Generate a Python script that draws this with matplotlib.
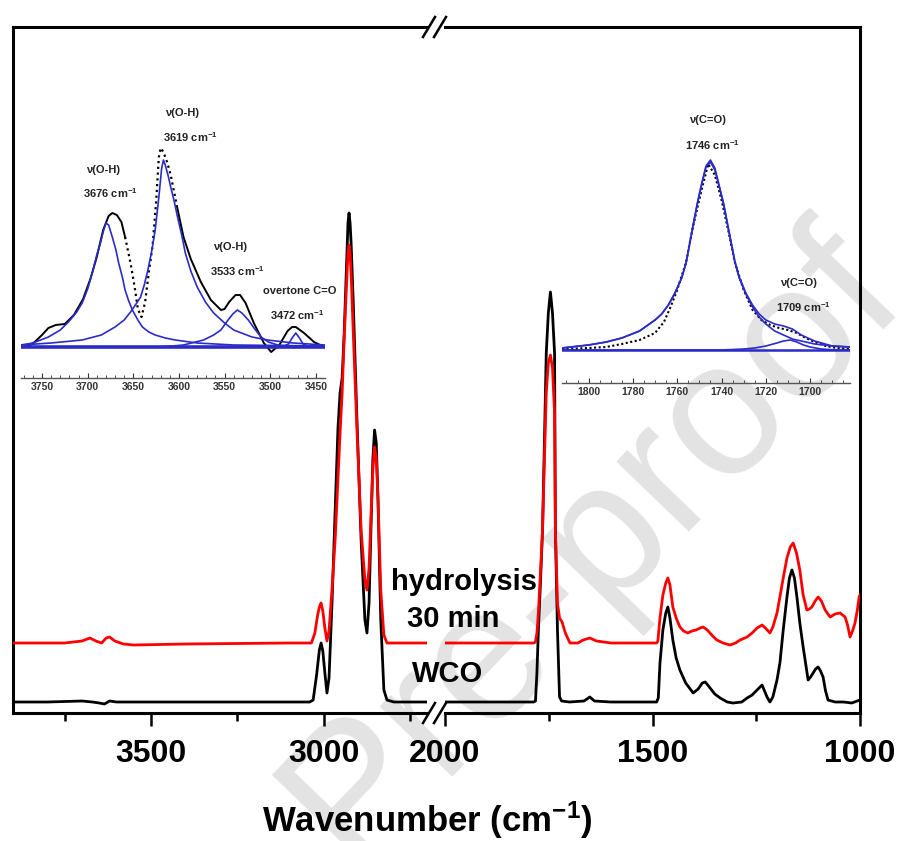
import matplotlib
matplotlib.use('Agg')
import matplotlib.pyplot as plt
from matplotlib.lines import Line2D

plt.rcParams['font.family'] = ['Liberation Sans', 'DejaVu Sans']
plt.rcParams['font.weight'] = 'bold'
plt.rcParams['mathtext.default'] = 'regular'

######################################################
## Main spectra (absorbance, a.u.)

# left panel, 3900-2700 cm-1
wco_l_nu = [3900, 3800, 3700, 3670, 3650, 3635, 3620, 3600, 3500, 3300, 3100, 3040, 3030, 3020, 3012,
            3007, 3002, 2996, 2990, 2984, 2975, 2966, 2958, 2952, 2946, 2940, 2933, 2929, 2926, 2923,
            2920, 2914, 2903, 2891, 2880, 2874, 2868, 2862, 2857, 2852, 2847, 2842, 2834, 2825, 2816,
            2796, 2700]
wco_l = [11, 11, 12, 11, 10, 9, 12, 11, 11, 11, 11, 11, 13, 38, 63,
         70, 62, 40, 20, 35, 113, 205, 285, 320, 335, 380, 450, 490, 500, 490,
         470, 413, 293, 173, 93, 80, 110, 190, 253, 283, 270, 213, 93, 23, 13,
         11, 11]

hyd_l_nu = [3900, 3800, 3750, 3700, 3677, 3660, 3643, 3630, 3620, 3605, 3580, 3550, 3400, 3100, 3035,
            3025, 3017, 3012, 3007, 3002, 2996, 2990, 2984, 2975, 2966, 2958, 2952, 2946, 2940, 2933,
            2929, 2926, 2923, 2920, 2914, 2903, 2891, 2880, 2874, 2868, 2862, 2857, 2852, 2847, 2842,
            2834, 2825, 2816, 2796, 2700]
hyd_l = [70, 70, 70, 72, 75, 72, 70, 75, 76, 72, 69, 68, 69, 70, 70,
         80, 98, 106, 110, 102, 85, 72, 82, 125, 175, 235, 280, 320, 375, 430,
         460, 468, 460, 440, 383, 283, 183, 133, 123, 145, 200, 243, 266, 255, 213,
         123, 78, 70, 70, 70]

# right panel, 2000-1000 cm-1
wco_r_nu = [2000, 1900, 1800, 1786, 1782, 1778.5, 1775, 1770, 1765, 1760, 1756, 1751, 1746, 1741, 1736,
            1734, 1729, 1724, 1719, 1700, 1665, 1651, 1640, 1600, 1520, 1490, 1486, 1482, 1475, 1468,
            1463, 1458, 1451, 1443, 1434, 1420, 1402, 1390, 1380, 1373, 1365, 1350, 1337, 1320, 1306,
            1285, 1272, 1260, 1248, 1236, 1224, 1217, 1210, 1200, 1193, 1185, 1176, 1170, 1164, 1158,
            1152, 1145, 1137, 1125, 1119, 1113, 1107, 1101, 1095, 1089, 1083, 1077, 1060, 1040, 1020,
            1000]
wco_r = [11, 11, 11, 11, 12, 40, 83, 130, 183, 280, 360, 400, 421, 400, 360,
         183, 83, 16, 12, 11, 12, 16, 12, 11, 11, 11, 15, 50, 83, 100,
         106, 95, 73, 55, 43, 30, 20, 24, 30, 31, 27, 19, 15, 11, 10,
         11, 15, 18, 23, 28, 16, 11, 16, 33, 50, 83, 116, 135, 143, 135,
         116, 90, 66, 33, 36, 40, 44, 46, 42, 36, 22, 13, 11, 11, 10,
         13]

hyd_r_nu = [2000, 1900, 1800, 1786, 1782, 1778.5, 1775, 1770, 1765, 1760, 1756, 1751, 1746, 1741, 1736,
            1734, 1729, 1724, 1718, 1710, 1699, 1680, 1667, 1651, 1635, 1600, 1520, 1490, 1487, 1482,
            1475, 1468, 1463, 1458, 1451, 1443, 1434, 1425, 1415, 1405, 1395, 1385, 1378, 1368, 1355,
            1345, 1330, 1313, 1300, 1289, 1272, 1260, 1248, 1236, 1228, 1217, 1210, 1200, 1193, 1185,
            1176, 1168, 1161, 1153, 1145, 1137, 1128, 1122, 1116, 1108, 1101, 1093, 1084, 1072, 1060,
            1048, 1036, 1030, 1024, 1018, 1012, 1006, 1002, 1000]
hyd_r = [70, 70, 70, 70, 71, 80, 100, 140, 183, 260, 320, 350, 358, 345, 300,
         183, 110, 95, 91, 80, 70, 70, 73, 75, 72, 70, 70, 70, 72, 95,
         118, 130, 135, 128, 106, 95, 86, 82, 80, 82, 83, 85, 86, 83, 77,
         73, 70, 68, 70, 73, 76, 80, 85, 88, 85, 80, 86, 100, 116, 135,
         155, 166, 170, 160, 143, 118, 103, 104, 106, 112, 116, 112, 103, 96, 99,
         100, 96, 88, 76, 82, 90, 104, 116, 118]

## Inset 1: O-H region deconvolution
oh_nu = [3772, 3765, 3758, 3750, 3743, 3735, 3725, 3715, 3705, 3697, 3690, 3683, 3677, 3673, 3668,
         3663, 3659, 3653, 3648, 3645, 3641, 3637, 3633, 3629, 3625, 3622, 3620, 3617, 3613, 3609,
         3602, 3595, 3587, 3576, 3565, 3554, 3550, 3545, 3538, 3533, 3527, 3518, 3507, 3499, 3490,
         3481, 3476, 3472, 3463, 3452, 3441]
oh_data = [0, 1, 5, 12, 19, 22, 23, 32, 48, 68, 90, 117, 131, 134, 132,
           125, 110, 84, 57, 38, 30, 45, 75, 100, 145, 190, 199, 195, 185, 172,
           140, 110, 88, 65, 47, 37, 38, 45, 52, 52, 44, 24, 4, -5, 2,
           16, 20, 20, 14, 5, 0]

oh_c1_nu = [3773, 3760, 3743, 3730, 3721, 3712, 3706, 3700, 3694, 3690, 3686, 3683, 3680, 3677, 3673,
            3669, 3666, 3662, 3659, 3655, 3651, 3645, 3640, 3633, 3626, 3615, 3604, 3580, 3540, 3440]
oh_c1 = [2, 4, 10, 17, 25, 35, 44, 58, 77, 92, 104, 115, 124, 122, 110,
         97, 84, 70, 57, 46, 37, 27, 20, 15, 12, 9, 7, 4, 2, 1]

oh_c2_nu = [3773, 3740, 3706, 3685, 3670, 3660, 3653, 3647, 3642, 3638, 3634, 3630, 3626, 3622, 3619,
            3617, 3615, 3612, 3609, 3605, 3602, 3597, 3593, 3587, 3580, 3571, 3562, 3550, 3540, 3520,
            3503, 3475, 3440]
oh_c2 = [2, 4, 7, 12, 20, 27, 35, 43, 50, 62, 77, 95, 117, 150, 178,
         187, 182, 172, 160, 145, 132, 112, 94, 76, 60, 45, 34, 24, 17, 10,
         7, 4, 2]

oh_c3_nu = [3620, 3595, 3573, 3562, 3554, 3547, 3541, 3536, 3531, 3524, 3517, 3510, 3502, 3492, 3470]
oh_c3 = [0, 2, 7, 12, 17, 26, 33, 37, 34, 27, 18, 10, 5, 2, 0]

oh_c4_nu = [3500, 3485, 3480, 3476, 3472, 3468, 3464, 3459, 3445]
oh_c4 = [0, 1, 3, 9, 14, 9, 3, 1, 0]

## Inset 2: C=O region deconvolution
co_nu = [1812, 1800, 1792, 1785, 1777, 1770, 1766, 1763, 1760, 1756, 1753, 1749, 1746, 1743, 1740,
         1737, 1734, 1730, 1726, 1722, 1718, 1714, 1710, 1706, 1702, 1698, 1693, 1688, 1682]
co_data = [1, 2, 3, 6, 10, 17, 28, 43, 60, 88, 122, 160, 186, 175, 150,
           120, 88, 60, 40, 30, 25, 22, 20, 17, 12, 8, 4, 2, 1]

co_c1_nu = [1812, 1800, 1792, 1785, 1777, 1770, 1767, 1764, 1761, 1758, 1756, 1753, 1751, 1749, 1747,
            1745, 1743, 1741, 1739, 1737, 1734, 1732, 1729, 1726, 1723, 1720, 1716, 1712, 1708, 1704,
            1698, 1690, 1682]
co_c1 = [2, 5, 8, 12, 19, 30, 36, 45, 57, 72, 87, 122, 145, 165, 183,
         188, 180, 163, 145, 122, 88, 72, 56, 43, 33, 26, 19, 15, 11, 9,
         6, 4, 3]

co_c2_nu = [1812, 1740, 1730, 1725, 1720, 1715, 1712, 1709, 1706, 1703, 1700, 1695, 1688, 1682]
co_c2 = [0, 0, 1, 2, 4, 7, 9, 10, 8, 5, 3, 1, 0, 0]

co_fit_nu = co_c1_nu
co_fit = [2, 5, 8, 12, 19, 30, 36, 45, 57, 72, 87, 123, 146, 166, 184,
          190, 182, 164, 146, 123, 89, 73, 57, 45, 36, 30, 26, 24, 21, 15,
          9, 4, 3]

######################################################

W, H = 901, 841


def fx(px):
    return px / W


def fy(py):
    return 1 - py / H


fig = plt.figure(figsize=(W / 100, H / 100), dpi=100)

# watermark
fig.text(fx(592), fy(545), 'Pre-proof', rotation=46, fontsize=138, color='#e3e3e3',
         ha='center', va='center', fontweight='normal', zorder=-5)

ax_l = fig.add_axes([fx(13), fy(713), fx(427) - fx(13), fy(27) - fy(713)])
ax_r = fig.add_axes([fx(445), fy(713), fx(860) - fx(445), fy(27) - fy(713)])

for ax in (ax_l, ax_r):
    ax.set_facecolor('none')
    ax.set_ylim(0, 686)
    ax.set_yticks([])
    for s in ax.spines.values():
        s.set_linewidth(2.2)
    ax.tick_params(axis='x', which='major', direction='out', length=9.5, width=1.8, labelsize=23, pad=9)
    ax.tick_params(axis='x', which='minor', direction='out', length=5.5, width=1.8)
ax_l.spines['right'].set_visible(False)
ax_r.spines['left'].set_visible(False)

ax_l.plot(wco_l_nu, wco_l, color='black', lw=2.0, zorder=2)
ax_l.plot(hyd_l_nu, hyd_l, color='red', lw=2.0, zorder=3)
ax_r.plot(wco_r_nu, wco_r, color='black', lw=2.0, zorder=2)
ax_r.plot(hyd_r_nu, hyd_r, color='red', lw=2.0, zorder=3)

ax_l.set_xlim(3900, 2700)
ax_l.set_xticks([3500, 3000])
ax_l.set_xticks([3750, 3250, 2750], minor=True)
ax_r.set_xlim(2000, 1000)
ax_r.set_xticks([2000, 1500, 1000])
ax_r.set_xticks([1750, 1250], minor=True)

# break marks
for py in (27, 713):
    for px in (429, 440):
        fig.add_artist(Line2D([fx(px - 6), fx(px + 6)], [fy(py + 10), fy(py - 10)],
                              color='black', lw=1.8))

fig.text(fx(464), fy(590), 'hydrolysis', fontsize=21, ha='center', va='baseline')
fig.text(fx(453), fy(627), '30 min', fontsize=21, ha='center', va='baseline')
fig.text(fx(448), fy(682), 'WCO', fontsize=21, ha='center', va='baseline')
fig.text(fx(427), fy(832), 'Wavenumber (cm$^{-1}$)', fontsize=25, ha='center', va='baseline')

## insets
blue = '#2b2bc8'

ins_l = fig.add_axes([fx(21), fy(378), fx(325) - fx(21), fy(100) - fy(378)])
ins_r = fig.add_axes([fx(562), fy(383), fx(850) - fx(562), fy(100) - fy(383)])

for ax in (ins_l, ins_r):
    ax.set_facecolor('none')
    for side in ('top', 'left', 'right'):
        ax.spines[side].set_visible(False)
    ax.spines['bottom'].set_color('#555555')
    ax.spines['bottom'].set_linewidth(1.0)
    ax.set_yticks([])
    ax.tick_params(axis='x', which='major', direction='in', length=3.5, width=0.8,
                   labelsize=7.5, colors='#333333', pad=3)
    ax.tick_params(axis='x', which='minor', direction='in', length=2, width=0.6, colors='#333333')

# O-H inset
ins_l.set_xlim(3773, 3440)
ins_l.set_ylim(-31, 247)
ins_l.set_xticks([3750, 3700, 3650, 3600, 3550, 3500, 3450])
ins_l.set_xticks(list(range(3770, 3440, -10)), minor=True)

dot_a = oh_nu.index(3659)
dot_b = oh_nu.index(3602)
ins_l.plot(oh_nu[:dot_a + 1], oh_data[:dot_a + 1], color='black', lw=1.4)
ins_l.plot(oh_nu[dot_a:dot_b + 1], oh_data[dot_a:dot_b + 1], color='black', lw=1.6, ls=(0, (1, 1.6)))
ins_l.plot(oh_nu[dot_b:], oh_data[dot_b:], color='black', lw=1.4)
for nu, comp in ((oh_c1_nu, oh_c1), (oh_c2_nu, oh_c2), (oh_c3_nu, oh_c3), (oh_c4_nu, oh_c4)):
    ins_l.plot(nu, comp, color=blue, lw=1.2)
ins_l.plot([3773, 3440], [0, 0], color=blue, lw=2.6)

# C=O inset
ins_r.set_xlim(1812, 1682)
ins_r.set_ylim(-33, 250)
ins_r.set_xticks([1800, 1780, 1760, 1740, 1720, 1700])
ins_r.set_xticks(list(range(1810, 1682, -5)), minor=True)

ins_r.plot(co_nu, co_data, color='black', lw=1.5, ls=(0, (1, 1.2)))
ins_r.plot(co_c1_nu, co_c1, color=blue, lw=1.2)
ins_r.plot(co_c2_nu, co_c2, color=blue, lw=1.2)
ins_r.plot(co_fit_nu, co_fit, color=blue, lw=1.2)
ins_r.plot([1812, 1682], [0, 0], color=blue, lw=1.8)

# peak labels
small = dict(fontsize=8, ha='center', va='center', color='#222222')
fig.text(fx(182), fy(113), 'ν(O-H)', **small)
fig.text(fx(190), fy(137), '3619 cm$^{-1}$', **small)
fig.text(fx(103), fy(170), 'ν(O-H)', **small)
fig.text(fx(110), fy(193), '3676 cm$^{-1}$', **small)
fig.text(fx(230), fy(247), 'ν(O-H)', **small)
fig.text(fx(237), fy(271), '3533 cm$^{-1}$', **small)
fig.text(fx(300), fy(291), 'overtone C=O', **small)
fig.text(fx(297), fy(315), '3472 cm$^{-1}$', **small)
fig.text(fx(707), fy(120), 'ν(C=O)', **small)
fig.text(fx(712), fy(145), '1746 cm$^{-1}$', **small)
fig.text(fx(798), fy(283), 'ν(C=O)', **small)
fig.text(fx(803), fy(307), '1709 cm$^{-1}$', **small)

fig.savefig('out.png', dpi=100)
